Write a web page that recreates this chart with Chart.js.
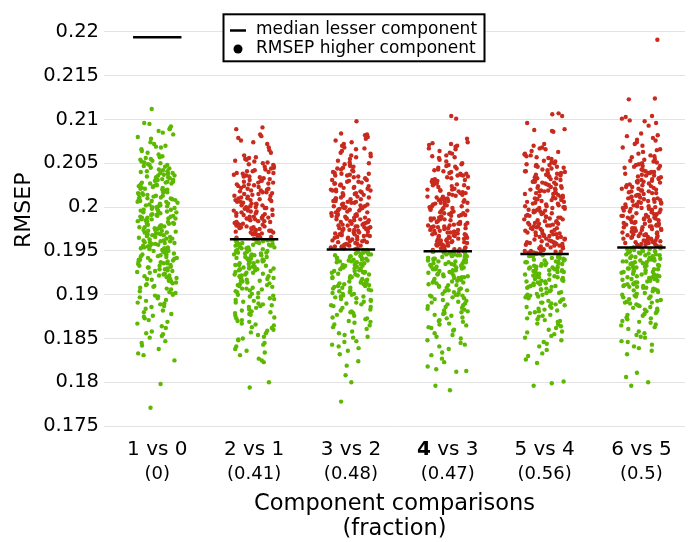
<!DOCTYPE html>
<html>
<head>
<meta charset="utf-8">
<script src="https://cdn.jsdelivr.net/npm/chart.js@4.4.1/dist/chart.umd.min.js"></script>
<style>
  html, body { margin: 0; padding: 0; background: #fff; }
  #wrap { width: 689px; height: 542px; }
</style>
</head>
<body>
<div id="wrap"><canvas id="chart" width="689" height="542"></canvas></div>
<script>
const comparisons = ['1 vs 0', '2 vs 1', '3 vs 2', '4 vs 3', '5 vs 4', '6 vs 5'];
const fractions = [0, 0.41, 0.48, 0.47, 0.56, 0.5];
const boldComparison = 3; // the "4" of "4 vs 3" is printed bold
const medianLesser = [0.21938, 0.19632, 0.19517, 0.19495, 0.19465, 0.1954];
const yTicks = [0.175, 0.18, 0.185, 0.19, 0.195, 0.2, 0.205, 0.21, 0.215, 0.22];

const rmsep1vs0 = [
  2112, 2096, 2095, 2092, 2090, 2089, 2087, 2085, 2083, 2080, 2078, 2074, 2072, 2070, 2069, 2068, 2066, 2064, 2062, 2060, 2058,
  2057, 2053, 2055, 2051, 2056, 2050, 2054, 2052,
  2048, 2043, 2046, 2041, 2049, 2044, 2040, 2047, 2042, 2045, 2048, 2041,
  2038, 2033, 2036, 2031, 2039, 2034, 2030, 2037, 2032, 2035, 2038, 2031, 2036, 2033, 2039, 2034,
  2027, 2022, 2029, 2024, 2020, 2026, 2021, 2028, 2023, 2025, 2029, 2022, 2027, 2020, 2024, 2026, 2021, 2028,
  2018, 2013, 2016, 2011, 2019, 2014, 2010, 2017, 2012, 2015, 2018, 2011, 2016, 2013, 2019, 2010, 2014, 2017,
  2007, 2002, 2009, 2004, 2000, 2006, 2001, 2008, 2003, 2005, 2009, 2002, 2007, 2000, 2004, 2006, 2001, 2008,
  1998, 1993, 1996, 1991, 1999, 1994, 1990, 1997, 1992, 1995, 1998, 1991, 1996, 1993, 1999, 1990, 1994, 1997,
  1987, 1982, 1989, 1984, 1980, 1986, 1981, 1988, 1983, 1985, 1989, 1982, 1987, 1980, 1984, 1986, 1981, 1988,
  1978, 1973, 1976, 1971, 1979, 1974, 1970, 1977, 1972, 1975, 1978, 1971, 1976, 1973, 1979, 1970, 1974, 1977,
  1967, 1962, 1969, 1964, 1960, 1966, 1961, 1968, 1963, 1965, 1969, 1962, 1967, 1960, 1964, 1966, 1961, 1968,
  1958, 1953, 1956, 1951, 1959, 1954, 1950, 1957, 1952, 1955, 1958, 1951, 1956, 1953, 1959, 1950, 1954,
  1947, 1942, 1949, 1944, 1940, 1946, 1941, 1948, 1943, 1945, 1949, 1942, 1947, 1940, 1944, 1946,
  1938, 1933, 1936, 1931, 1939, 1934, 1930, 1937, 1932, 1935, 1938, 1931, 1936, 1933, 1939,
  1927, 1922, 1929, 1924, 1920, 1926, 1921, 1928, 1923, 1925, 1929, 1922, 1927,
  1918, 1913, 1916, 1911, 1919, 1914, 1910, 1917, 1912, 1915, 1918,
  1907, 1902, 1909, 1904, 1900, 1906, 1901, 1908, 1903,
  1898, 1893, 1896, 1891, 1899, 1894, 1890, 1897,
  1887, 1882, 1889, 1884, 1880, 1886,
  1878, 1873, 1876, 1871, 1875,
  1867, 1862, 1869, 1864,
  1858, 1853, 1856, 1851, 1855,
  1847, 1842, 1845, 1838, 1833, 1831,
  1825, 1798, 1771
];
const rmsep2vs1 = [
  2091, 2089, 2083, 2081, 2079, 2076, 2074, 2072, 2068, 2065, 2062, 2059, 2057,
  2055, 2051, 2053, 2056, 2050, 2054, 2052,
  2046, 2041, 2048, 2043, 2049, 2040, 2045, 2042, 2047, 2044, 2041,
  2035, 2039, 2032, 2037, 2030, 2034, 2038, 2031, 2036, 2033, 2039, 2030, 2035,
  2024, 2028, 2021, 2026, 2029, 2023, 2020, 2027, 2025, 2022, 2028, 2021, 2026, 2024,
  2013, 2017, 2010, 2015, 2019, 2012, 2016, 2011, 2018, 2014, 2017, 2010, 2015, 2019, 2013,
  2002, 2006, 2009, 2004, 2000, 2007, 2003, 2008, 2001, 2005, 2009, 2002, 2006, 2000, 2004, 2008,
  1991, 1995, 1998, 1993, 1999, 1990, 1996, 1992, 1997, 1994, 1998, 1991, 1995, 1999, 1993, 1990, 1996,
  1984, 1988, 1981, 1986, 1989, 1983, 1980, 1987, 1985, 1982, 1988, 1981, 1986, 1984, 1989, 1980, 1983, 1987,
  1973, 1977, 1970, 1975, 1979, 1972, 1976, 1971, 1978, 1974, 1977, 1970, 1975, 1979, 1973, 1971, 1976, 1978, 1972,
  1965, 1968, 1963, 1966, 1969, 1964, 1967, 1965, 1968, 1963, 1966, 1969, 1964, 1967,
  1961, 1962, 1960, 1962, 1961, 1960,
  1954, 1958, 1951, 1956, 1959, 1953, 1950, 1957, 1955, 1952, 1958, 1951, 1956, 1954, 1959, 1950, 1953, 1957, 1955,
  1943, 1947, 1940, 1945, 1949, 1942, 1946, 1941, 1948, 1944, 1947, 1940, 1945, 1949, 1943, 1941, 1946, 1948,
  1932, 1936, 1939, 1934, 1930, 1937, 1933, 1938, 1931, 1935, 1939, 1932, 1936, 1930, 1934, 1938, 1931,
  1921, 1925, 1928, 1923, 1929, 1920, 1926, 1922, 1927, 1924, 1928, 1921, 1925, 1929, 1923,
  1914, 1918, 1911, 1916, 1919, 1913, 1910, 1917, 1915, 1912, 1918, 1911, 1916,
  1903, 1907, 1900, 1905, 1909, 1902, 1906, 1901, 1908, 1904, 1907,
  1892, 1896, 1899, 1894, 1890, 1897, 1893, 1898, 1891, 1895,
  1881, 1885, 1888, 1883, 1889, 1880, 1886, 1882, 1887,
  1874, 1878, 1871, 1876, 1879, 1873, 1870, 1877,
  1863, 1867, 1860, 1865, 1869, 1862, 1866,
  1852, 1856, 1859, 1854, 1850, 1857,
  1841, 1845, 1848, 1843, 1849, 1834, 1838, 1831, 1836,
  1827, 1823, 1825, 1800, 1794
];
const rmsep3vs2 = [
  2098, 2084, 2083, 2082, 2080, 2078, 2076, 2074, 2072, 2070, 2068,
  2066, 2062, 2064, 2061, 2067,
  2057, 2053, 2059, 2051, 2055, 2058, 2050,
  2046, 2042, 2048, 2041, 2044, 2049, 2040, 2047, 2043, 2045,
  2036, 2031, 2038, 2033, 2039, 2030, 2035, 2032, 2037, 2034, 2038, 2031, 2036,
  2025, 2029, 2022, 2027, 2020, 2024, 2028, 2021, 2026, 2023, 2029, 2020, 2025, 2027, 2022,
  2014, 2018, 2011, 2016, 2019, 2013, 2010, 2017, 2015, 2012, 2018, 2011, 2016, 2014, 2019, 2010,
  2003, 2007, 2000, 2005, 2009, 2002, 2006, 2001, 2008, 2004, 2007, 2000, 2005, 2009, 2003, 2001, 2006,
  1992, 1996, 1999, 1994, 1990, 1997, 1993, 1998, 1991, 1995, 1999, 1992, 1996, 1990, 1994, 1998, 1991, 1997,
  1981, 1985, 1988, 1983, 1989, 1980, 1986, 1982, 1987, 1984, 1988, 1981, 1985, 1989, 1983, 1980, 1986, 1987,
  1974, 1978, 1971, 1976, 1979, 1973, 1970, 1977, 1975, 1972, 1978, 1971, 1976, 1974, 1979, 1970, 1973, 1977, 1975,
  1963, 1967, 1960, 1965, 1969, 1962, 1966, 1961, 1968, 1964, 1967, 1960, 1965, 1969, 1963, 1961, 1966, 1968, 1962,
  1956, 1953, 1958, 1954, 1952, 1957, 1955, 1959, 1953, 1956, 1952, 1958, 1954, 1957, 1955,
  1951, 1950, 1951, 1950,
  1945, 1949, 1942, 1947, 1940, 1944, 1948, 1941, 1946, 1943, 1949, 1940, 1945, 1947, 1942, 1948, 1941, 1944, 1946,
  1934, 1938, 1931, 1936, 1939, 1933, 1930, 1937, 1935, 1932, 1938, 1931, 1936, 1934, 1939, 1930, 1933, 1937,
  1923, 1927, 1920, 1925, 1929, 1922, 1926, 1921, 1928, 1924, 1927, 1920, 1925, 1929, 1923, 1926,
  1912, 1916, 1919, 1914, 1910, 1917, 1913, 1918, 1911, 1915, 1919, 1912, 1916, 1910, 1914,
  1901, 1905, 1908, 1903, 1909, 1900, 1906, 1902, 1907, 1904, 1908, 1901, 1905,
  1894, 1898, 1891, 1896, 1899, 1893, 1890, 1897, 1895, 1892, 1898,
  1883, 1887, 1880, 1885, 1889, 1882, 1886, 1881, 1888,
  1872, 1876, 1879, 1874, 1870, 1877, 1873,
  1861, 1865, 1868, 1863, 1869, 1866,
  1854, 1858, 1851, 1856, 1852,
  1843, 1847, 1841, 1846, 1832, 1836, 1839, 1824, 1819,
  1808, 1800, 1778
];
const rmsep4vs3 = [
  2104, 2101, 2078, 2074, 2073, 2072, 2071, 2070, 2069, 2067, 2066, 2064, 2062, 2061, 2059,
  2056, 2052, 2058, 2050, 2054, 2057,
  2045, 2041, 2048, 2043, 2049, 2040, 2046, 2042, 2047, 2044,
  2034, 2038, 2031, 2036, 2039, 2033, 2030, 2037, 2035, 2032, 2038, 2031, 2036,
  2023, 2027, 2020, 2025, 2029, 2022, 2026, 2021, 2028, 2024, 2027, 2020, 2025, 2029,
  2012, 2016, 2019, 2014, 2010, 2017, 2013, 2018, 2011, 2015, 2019, 2012, 2016, 2010, 2014,
  2001, 2005, 2008, 2003, 2009, 2000, 2006, 2002, 2007, 2004, 2008, 2001, 2005, 2009, 2003, 2006,
  1994, 1998, 1991, 1996, 1999, 1993, 1990, 1997, 1995, 1992, 1998, 1991, 1996, 1994, 1999, 1990, 1993,
  1983, 1987, 1980, 1985, 1989, 1982, 1986, 1981, 1988, 1984, 1987, 1980, 1985, 1989, 1983, 1981, 1986, 1988,
  1972, 1976, 1979, 1974, 1970, 1977, 1973, 1978, 1971, 1975, 1979, 1972, 1976, 1970, 1974, 1978, 1971, 1977, 1973,
  1961, 1965, 1968, 1963, 1969, 1960, 1966, 1962, 1967, 1964, 1968, 1961, 1965, 1969, 1963, 1960, 1966, 1967, 1962, 1964,
  1954, 1958, 1951, 1956, 1959, 1953, 1950, 1957, 1955, 1952, 1958, 1951, 1956, 1954, 1959, 1950, 1953, 1957, 1955, 1952,
  1943, 1947, 1940, 1945, 1949, 1942, 1946, 1941, 1948, 1944, 1947, 1940, 1945, 1949, 1943, 1941, 1946, 1948, 1942, 1944, 1949,
  1932, 1936, 1939, 1934, 1930, 1937, 1933, 1938, 1931, 1935, 1939, 1932, 1936, 1930, 1934, 1938, 1931, 1937, 1935,
  1921, 1925, 1928, 1923, 1929, 1920, 1926, 1922, 1927, 1924, 1928, 1921, 1925, 1929, 1923, 1920, 1926,
  1914, 1918, 1911, 1916, 1919, 1913, 1910, 1917, 1915, 1912, 1918, 1911, 1916, 1914, 1919,
  1903, 1907, 1900, 1905, 1909, 1902, 1906, 1901, 1908, 1904, 1907, 1900, 1905,
  1892, 1896, 1899, 1894, 1890, 1897, 1893, 1898, 1891, 1895, 1899,
  1881, 1885, 1888, 1883, 1889, 1880, 1886, 1882, 1887, 1884,
  1874, 1878, 1871, 1876, 1879, 1873, 1870, 1877,
  1863, 1867, 1860, 1865, 1869, 1862, 1866,
  1852, 1856, 1859, 1854, 1850,
  1841, 1845, 1848, 1843, 1834, 1838, 1831, 1827, 1823,
  1818, 1815, 1813, 1812, 1796, 1791
];
const rmsep5vs4 = [
  2107, 2106, 2104, 2096, 2089, 2088, 2087, 2086, 2072, 2070, 2068, 2067, 2066, 2064, 2063, 2061, 2060,
  2055, 2051, 2058, 2053, 2059, 2050, 2056, 2052, 2057,
  2044, 2048, 2041, 2046, 2049, 2043, 2040, 2047, 2045, 2042, 2048, 2041, 2046,
  2033, 2037, 2030, 2035, 2039, 2032, 2036, 2031, 2038, 2034, 2037, 2030, 2035, 2039, 2033,
  2022, 2026, 2029, 2024, 2020, 2027, 2023, 2028, 2021, 2025, 2029, 2022, 2026, 2020, 2024, 2028,
  2011, 2015, 2018, 2013, 2019, 2010, 2016, 2012, 2017, 2014, 2018, 2011, 2015, 2019, 2013, 2010, 2016,
  2004, 2008, 2001, 2006, 2009, 2003, 2000, 2007, 2005, 2002, 2008, 2001, 2006, 2004, 2009, 2000,
  1993, 1997, 1990, 1995, 1999, 1992, 1996, 1991, 1998, 1994, 1997, 1990, 1995, 1999, 1993, 1996,
  1982, 1986, 1989, 1984, 1980, 1987, 1983, 1988, 1981, 1985, 1989, 1982, 1986, 1980, 1984, 1988, 1981,
  1971, 1975, 1978, 1973, 1979, 1970, 1976, 1972, 1977, 1974, 1978, 1971, 1975, 1979, 1973, 1970, 1976,
  1964, 1968, 1961, 1966, 1969, 1963, 1960, 1967, 1965, 1962, 1968, 1961, 1966, 1964, 1969, 1960, 1963, 1967,
  1953, 1957, 1950, 1955, 1959, 1952, 1956, 1951, 1958, 1954, 1957, 1950, 1955, 1959, 1953, 1951, 1956, 1958,
  1948, 1947, 1949, 1948, 1947, 1949, 1948, 1947,
  1942, 1945, 1940, 1944, 1946, 1941, 1943, 1945, 1940, 1946, 1942, 1944,
  1931, 1935, 1938, 1933, 1939, 1930, 1936, 1932, 1937, 1934, 1938, 1931, 1935, 1939, 1933, 1930, 1936, 1937, 1932,
  1924, 1928, 1921, 1926, 1929, 1923, 1920, 1927, 1925, 1922, 1928, 1921, 1926, 1924, 1929, 1920, 1923, 1927,
  1913, 1917, 1910, 1915, 1919, 1912, 1916, 1911, 1918, 1914, 1917, 1910, 1915, 1919, 1913, 1916,
  1902, 1906, 1909, 1904, 1900, 1907, 1903, 1908, 1901, 1905, 1909, 1902, 1906, 1900,
  1891, 1895, 1898, 1893, 1899, 1890, 1896, 1892, 1897, 1894, 1898, 1891,
  1884, 1888, 1881, 1886, 1889, 1883, 1880, 1887, 1885, 1882,
  1873, 1877, 1870, 1875, 1879, 1872, 1876, 1871,
  1862, 1866, 1869, 1864, 1860, 1867,
  1851, 1855, 1858, 1853, 1857,
  1844, 1848, 1841, 1846, 1833, 1837, 1830, 1826, 1822,
  1801, 1799, 1796
];
const rmsep6vs5 = [
  2191, 2124, 2123, 2104, 2103, 2101, 2099, 2098, 2096, 2093,
  2084, 2082, 2081, 2079, 2077, 2076, 2074, 2072, 2070, 2068, 2066, 2065, 2063, 2061, 2059,
  2054, 2050, 2057, 2052, 2058, 2051, 2055, 2053,
  2043, 2047, 2040, 2045, 2049, 2042, 2046, 2041, 2048, 2044, 2047, 2040,
  2032, 2036, 2039, 2034, 2030, 2037, 2033, 2038, 2031, 2035, 2039, 2032, 2036, 2030,
  2021, 2025, 2028, 2023, 2029, 2020, 2026, 2022, 2027, 2024, 2028, 2021, 2025, 2029, 2023,
  2014, 2018, 2011, 2016, 2019, 2013, 2010, 2017, 2015, 2012, 2018, 2011, 2016, 2014, 2019, 2010,
  2003, 2007, 2000, 2005, 2009, 2002, 2006, 2001, 2008, 2004, 2007, 2000, 2005, 2009, 2003, 2001, 2006,
  1992, 1996, 1999, 1994, 1990, 1997, 1993, 1998, 1991, 1995, 1999, 1992, 1996, 1990, 1994, 1998, 1991, 1997,
  1981, 1985, 1988, 1983, 1989, 1980, 1986, 1982, 1987, 1984, 1988, 1981, 1985, 1989, 1983, 1980, 1986, 1987, 1982,
  1974, 1978, 1971, 1976, 1979, 1973, 1970, 1977, 1975, 1972, 1978, 1971, 1976, 1974, 1979, 1970, 1973, 1977, 1975,
  1963, 1967, 1960, 1965, 1969, 1962, 1966, 1961, 1968, 1964, 1967, 1960, 1965, 1969, 1963, 1961, 1966, 1968, 1962, 1964,
  1956, 1959, 1954, 1957, 1955, 1958, 1956, 1954, 1959, 1957, 1955, 1958,
  1951, 1953, 1950, 1952, 1953, 1951, 1950, 1952,
  1945, 1949, 1942, 1947, 1940, 1944, 1948, 1941, 1946, 1943, 1949, 1940, 1945, 1947, 1942, 1948, 1941, 1944, 1946,
  1934, 1938, 1931, 1936, 1939, 1933, 1930, 1937, 1935, 1932, 1938, 1931, 1936, 1934, 1939, 1930, 1933, 1937,
  1923, 1927, 1920, 1925, 1929, 1922, 1926, 1921, 1928, 1924, 1927, 1920, 1925, 1929, 1923, 1926, 1921,
  1912, 1916, 1919, 1914, 1910, 1917, 1913, 1918, 1911, 1915, 1919, 1912, 1916, 1910, 1914, 1918,
  1901, 1905, 1908, 1903, 1909, 1900, 1906, 1902, 1907, 1904, 1908, 1901, 1905, 1909,
  1894, 1898, 1891, 1896, 1899, 1893, 1890, 1897, 1895, 1892, 1898, 1891,
  1883, 1887, 1880, 1885, 1889, 1882, 1886, 1881, 1888, 1884,
  1872, 1876, 1879, 1874, 1870, 1877, 1873, 1878,
  1861, 1865, 1868, 1863, 1869, 1866,
  1854, 1858, 1851, 1856, 1852,
  1843, 1847, 1841, 1846, 1832, 1836, 1839,
  1811, 1806, 1800, 1796
];
const rmsepHigher = [rmsep1vs0, rmsep2vs1, rmsep3vs2, rmsep4vs3, rmsep5vs4, rmsep6vs5];

const GREEN = '#5cb800';
const RED = '#c92a1e';
const FONT = "'DejaVu Sans', Verdana, sans-serif";
const JITTER = 0.42;      // strip width in category units
const MEDIAN_HALF = 0.25; // half length of the median bar

Chart.defaults.font.family = FONT;
Chart.defaults.color = '#000';

// fixed integer hash of (strip, index) -> sideways offset, same every run
function spread(i, j) {
  let h = Math.imul(i * 7919 + j * 104729 + 1, 0x9E3779B1);
  h ^= h >>> 15;
  h = Math.imul(h, 0x85EBCA77);
  h ^= h >>> 13;
  return (h >>> 0) / 4294967296 - 0.5;
}

const points = [];
const pointColors = [];
rmsepHigher.forEach((vals, i) => {
  vals.forEach((v, j) => {
    const y = v / 10000;
    points.push({ x: i + spread(i, j) * JITTER, y: y });
    pointColors.push(y >= medianLesser[i] ? RED : GREEN);
  });
});

const medianSegs = [];
medianLesser.forEach((m, i) => {
  medianSegs.push({ x: i - MEDIAN_HALF, y: m }, { x: i + MEDIAN_HALF, y: m }, { x: i + MEDIAN_HALF, y: null });
});

const extras = {
  id: 'extras',
  afterDraw(chart) {
    const ctx = chart.ctx;
    const xs = chart.scales.x;
    const area = chart.chartArea;
    ctx.save();
    ctx.fillStyle = '#000';

    // category labels with fraction underneath
    ctx.textBaseline = 'alphabetic';
    comparisons.forEach((lab, i) => {
      const cx = xs.getPixelForValue(i);
      if (i === boldComparison) {
        const parts = lab.split(' ');
        const head = parts[0];
        const tail = ' ' + parts.slice(1).join(' ');
        ctx.font = 'bold 20px ' + FONT;
        const w1 = ctx.measureText(head).width;
        ctx.font = '20px ' + FONT;
        const w2 = ctx.measureText(tail).width;
        const x0 = cx - (w1 + w2) / 2;
        ctx.textAlign = 'left';
        ctx.font = 'bold 20px ' + FONT;
        ctx.fillText(head, x0, 455);
        ctx.font = '20px ' + FONT;
        ctx.fillText(tail, x0 + w1, 455);
      } else {
        ctx.font = '20px ' + FONT;
        ctx.textAlign = 'center';
        ctx.fillText(lab, cx, 455);
      }
      ctx.font = '18px ' + FONT;
      ctx.textAlign = 'center';
      ctx.fillText('(' + fractions[i] + ')', cx, 479);
    });

    // y axis title
    ctx.save();
    ctx.translate(24, (area.top + area.bottom) / 2 - 10);
    ctx.rotate(-Math.PI / 2);
    ctx.font = '22px ' + FONT;
    ctx.textAlign = 'center';
    ctx.textBaseline = 'middle';
    ctx.fillText('RMSEP', 0, 0);
    ctx.restore();

    // legend box
    const ds = chart.data.datasets;
    ctx.fillStyle = '#fff';
    ctx.fillRect(223.5, 14.3, 261, 47);
    ctx.strokeStyle = '#000';
    ctx.lineWidth = 2;
    ctx.strokeRect(223.5, 14.3, 261, 47);
    ctx.fillStyle = '#000';
    ctx.lineWidth = 2.5;
    ctx.beginPath();
    ctx.moveTo(230, 30.5);
    ctx.lineTo(246, 30.5);
    ctx.stroke();
    ctx.beginPath();
    ctx.arc(238, 49, 4.5, 0, Math.PI * 2);
    ctx.fill();
    ctx.font = '17px ' + FONT;
    ctx.textAlign = 'left';
    ctx.textBaseline = 'middle';
    ctx.fillText(ds[0].label, 256, 29.5);
    ctx.fillText(ds[1].label, 256, 48.5);
    ctx.restore();
  }
};

new Chart(document.getElementById('chart'), {
  type: 'scatter',
  data: {
    datasets: [
      {
        label: 'median lesser component',
        data: medianSegs,
        showLine: true,
        borderColor: '#000',
        borderWidth: 2.5,
        pointRadius: 0,
        spanGaps: false,
        order: 0
      },
      {
        label: 'RMSEP higher component',
        data: points,
        backgroundColor: pointColors,
        borderWidth: 0,
        pointRadius: 2.2,
        order: 1
      }
    ]
  },
  plugins: [extras],
  options: {
    responsive: false,
    animation: false,
    devicePixelRatio: 1,
    layout: { padding: { top: 10, right: 2, left: 0, bottom: 0 } },
    plugins: {
      legend: { display: false },
      tooltip: { enabled: false }
    },
    scales: {
      x: {
        type: 'linear',
        min: -0.55,
        max: 5.45,
        grid: { display: false },
        border: { display: false },
        ticks: { display: false },
        title: {
          display: true,
          text: ['Component comparisons', '(fraction)'],
          font: { size: 22.5, lineHeight: 1.09 },
          color: '#000',
          padding: { top: 0, bottom: 1 }
        },
        afterFit: (s) => { s.height = 111.5; }
      },
      y: {
        min: 0.1745,
        max: 0.2225,
        afterBuildTicks: (s) => { s.ticks = yTicks.map(v => ({ value: v })); },
        grid: { color: '#e3e3e3', lineWidth: 1, drawTicks: false },
        border: { display: false },
        ticks: {
          padding: 5,
          font: { size: 19.5 },
          color: '#000',
          callback: (v) => String(+v.toFixed(3))
        },
        afterFit: (s) => { s.width = 104; s.paddingTop = 0; s.paddingBottom = 0; }
      }
    }
  }
});
</script>
</body>
</html>
